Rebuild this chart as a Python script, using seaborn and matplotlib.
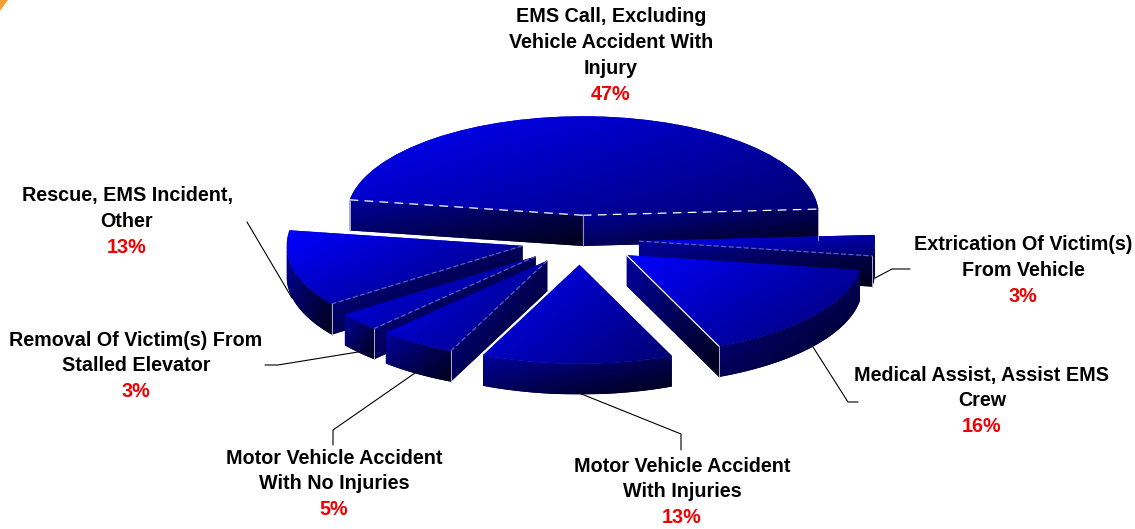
import numpy as np
import matplotlib
matplotlib.use("Agg")
import matplotlib.pyplot as plt
from matplotlib.lines import Line2D
from matplotlib.patches import Polygon
import seaborn as sns

# incident types, clockwise from the big slice at the back
categories = [
    "EMS Call, Excluding Vehicle Accident With Injury",
    "Extrication Of Victim(s) From Vehicle",
    "Medical Assist, Assist EMS Crew",
    "Motor Vehicle Accident With Injuries",
    "Motor Vehicle Accident With No Injuries",
    "Removal Of Victim(s) From Stalled Elevator",
    "Rescue, EMS Incident, Other",
]
# shares, the printed labels are rounded
percent = [46.5, 3.4, 16.2, 13.1, 5.3, 3.0, 12.5]

W, H = 1135, 529
CX, CY = 580, 240   # pie centre, pixels
RX, RY = 236, 99    # pixels per data unit
DEPTH = 0.31

sns.set_theme(style="white")
plt.rcParams["font.family"] = ["Liberation Sans", "DejaVu Sans"]

top_cmap = sns.blend_palette(["#0000ff", "#0000b4", "#000070"], as_cmap=True)
side_cmap = sns.blend_palette(["#0000a0", "#000058", "#000018"], as_cmap=True)

fig = plt.figure(figsize=(W / 100, H / 100), dpi=100)
ax = fig.add_axes([0, 0, 1, 1])

wedges, _ = ax.pie(percent, explode=[0.25] * len(percent), startangle=171,
                   counterclock=False, radius=1)
ax.set_aspect("auto")


def gradient(clip, x0, x1, y0, y1, cmap, z, wx=0.5, wy=0.5):
    # diagonal shading, light corner top left
    u, v = np.meshgrid(np.linspace(0, 1, 128), np.linspace(0, 1, 128))
    im = ax.imshow(wx * u + wy * v, extent=(x0, x1, y0, y1), cmap=cmap, vmin=0, vmax=1,
                   aspect="auto", interpolation="bilinear", zorder=z)
    im.set_clip_path(clip)


def face(pts, z):
    pts = np.array(pts)
    poly = Polygon(pts, closed=True, fc="#000050", ec="none", zorder=z)
    ax.add_patch(poly)
    gradient(poly, pts[:, 0].min(), pts[:, 0].max(), pts[:, 1].min(), pts[:, 1].max(),
             side_cmap, z + 0.1)


# back slices first
order = sorted(range(len(wedges)),
               key=lambda i: -np.sin(np.radians((wedges[i].theta1 + wedges[i].theta2) / 2)))

z = 2
for i in order:
    w = wedges[i]
    cx, cy = w.center
    edge_col, edge_ls = "#6060b0", (0, (4, 2))
    if i == 0:
        edge_col, edge_ls = "white", (0, (7, 5))
    if i == 2:
        edge_col, edge_ls = "white", "-"

    for ang, normal in ((w.theta1, w.theta1 - 90), (w.theta2, w.theta2 + 90)):
        if np.sin(np.radians(normal)) < 0:
            ex = cx + np.cos(np.radians(ang))
            ey = cy + np.sin(np.radians(ang))
            face([(cx, cy), (ex, ey), (ex, ey - DEPTH), (cx, cy - DEPTH)], z)
            z += 1
            ax.plot([cx, ex], [cy, ey], color=edge_col, lw=0.9, ls=edge_ls, zorder=60)
            ax.plot([ex, ex], [ey, ey - DEPTH], color="#b0b0c8", lw=0.7, zorder=60)
    if i == 0:
        ax.plot([cx, cx], [cy, cy - DEPTH], color="#9090b0", lw=0.8, zorder=60)

    t = np.radians(np.linspace(w.theta1, w.theta2, 300))
    t = t[np.sin(t) <= 0]
    if len(t) > 1:
        ax_x = cx + np.cos(t)
        ax_y = cy + np.sin(t)
        pts = list(zip(ax_x, ax_y)) + list(zip(ax_x[::-1], ax_y[::-1] - DEPTH))
        face(pts, z)
        z += 1

    w.set(facecolor="#0000c0", edgecolor="none", zorder=z)
    x0, y0, x1, y1 = w.get_path().get_extents().extents
    gradient(w, x0, x1, y0, y1, top_cmap, z + 0.1, 0.6, 0.4)
    z += 1

ax.set_xlim(-CX / RX, (W - CX) / RX)
ax.set_ylim((CY - H) / RY, CY / RY)
ax.set_axis_off()

# labels: (centre x, first line y, text lines, percent)
labels = [
    (611, 17, ["EMS Call, Excluding", "Vehicle Accident With", "Injury"], "47%"),
    (127, 196, ["Rescue, EMS Incident,", "Other"], "13%"),
    (1023, 245, ["Extrication Of Victim(s)", "From Vehicle"], "3%"),
    (982, 375, ["Medical Assist, Assist EMS", "Crew"], "16%"),
    (682, 466, ["Motor Vehicle Accident", "With Injuries"], "13%"),
    (334, 458, ["Motor Vehicle Accident", "With No Injuries"], "5%"),
    (136, 340, ["Removal Of Victim(s) From", "Stalled Elevator"], "3%"),
]
for x, y, lines, pct in labels:
    for k, line in enumerate(lines):
        fig.text(x / W, 1 - (y + k * 25.5) / H, line, ha="center", va="center",
                 fontsize=14.2, fontweight="bold", color="black")
    fig.text(x / W, 1 - (y + len(lines) * 25.5 + 0.5) / H, pct, ha="center", va="center",
             fontsize=14.2, fontweight="bold", color="#f00000")

leaders = [
    [(247, 222), (292, 298)],
    [(875, 278), (892, 269), (910, 269)],
    [(813, 347), (848, 402), (858, 402)],
    [(579, 393), (681, 434), (681, 450)],
    [(415, 373), (333, 430), (333, 445)],
    [(265, 365), (278, 365), (358, 352)],
]
for seg in leaders:
    xs = [p[0] / W for p in seg]
    ys = [1 - p[1] / H for p in seg]
    fig.add_artist(Line2D(xs, ys, color="black", lw=0.8, transform=fig.transFigure))

# corner of the slide background
fig.add_artist(Polygon([(0, 1), (8 / W, 1), (0, 1 - 11 / H)], closed=True, fc="#f0a030",
                       ec="none", transform=fig.transFigure))

fig.savefig("out.png", dpi=100)
